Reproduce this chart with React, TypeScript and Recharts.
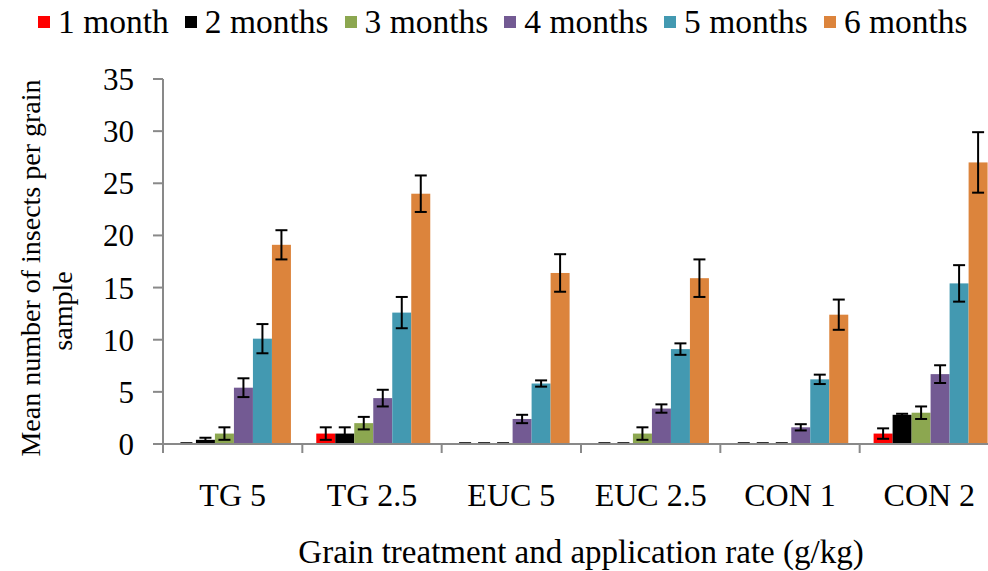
import React from 'react';
import { Bar, BarChart, ErrorBar, Label, Legend, XAxis, YAxis } from 'recharts';

const categories = ['TG 5', 'TG 2.5', 'EUC 5', 'EUC 2.5', 'CON 1', 'CON 2'];
const seriesNames = ['1 month', '2 months', '3 months', '4 months', '5 months', '6 months'];
const month1 = [0, 1.0, 0, 0, 0, 1.0];
const month1Err = [0, 0.6, 0, 0, 0, 0.5];
const month2 = [0.4, 1.0, 0, 0, 0, 2.8];
const month2Err = [0.2, 0.6, 0, 0, 0, 0.1];
const month3 = [1.0, 2.0, 0, 1.0, 0, 3.0];
const month3Err = [0.6, 0.6, 0, 0.6, 0, 0.6];
const month4 = [5.4, 4.4, 2.4, 3.4, 1.6, 6.7];
const month4Err = [0.9, 0.8, 0.4, 0.4, 0.3, 0.85];
const month5 = [10.1, 12.6, 5.8, 9.1, 6.2, 15.4];
const month5Err = [1.4, 1.5, 0.3, 0.55, 0.45, 1.75];
const month6 = [19.1, 24.0, 16.4, 15.9, 12.4, 27.0];
const month6Err = [1.4, 1.75, 1.8, 1.8, 1.45, 2.9];
const yTicks = [0, 5, 10, 15, 20, 25, 30, 35];

const values = [month1, month2, month3, month4, month5, month6];
const errors = [month1Err, month2Err, month3Err, month4Err, month5Err, month6Err];
const colors = ['#FF0000', '#000000', '#8CA750', '#735A93', '#4399B1', '#DC843C'];

const data = categories.map((name, i) => {
  const row: Record<string, any> = { name };
  values.forEach((v, s) => {
    row[`m${s}`] = v[i];
    row[`e${s}`] = errors[s][i];
  });
  return row;
});

const FONT = "'Liberation Serif', 'Times New Roman', serif";
const AXIS_GRAY = '#898989';
const CHART_W = 1010;
const CHART_H = 571;
const Y_AXIS_W = 163;
const RIGHT = 11;
const band = (CHART_W - Y_AXIS_W - RIGHT) / categories.length;

// zero bars only show the error cap as a short dash on the baseline
function makeShape(s: number) {
  return (props: any) => {
    const { x, y, width, height, fill, index } = props;
    if (values[s][index] === 0) {
      const cx = x + width / 2;
      const base = y + height;
      return <line x1={cx - 6} y1={base - 1} x2={cx + 6} y2={base - 1} stroke="#333" strokeWidth={2} />;
    }
    return <rect x={x} y={y} width={width} height={height} fill={fill} />;
  };
}

function CategoryTick(props: any) {
  const { x, y, payload, index } = props;
  return (
    <g>
      <line x1={x - band / 2} y1={y} x2={x - band / 2} y2={y + 9} stroke={AXIS_GRAY} strokeWidth={2} />
      {index === categories.length - 1 ? (
        <line x1={x + band / 2} y1={y} x2={x + band / 2} y2={y + 9} stroke={AXIS_GRAY} strokeWidth={2} />
      ) : null}
      <text x={x} y={y + 62} textAnchor="middle" fontSize={32} fill="#000" fontFamily={FONT}>
        {payload.value}
      </text>
    </g>
  );
}

function YTitle() {
  return (
    <g fontFamily={FONT} fontSize={28} fill="#000">
      <text x={40} y={268} transform="rotate(-90 40 268)" textAnchor="middle">
        Mean number of insects per grain
      </text>
      <text x={72} y={311} transform="rotate(-90 72 311)" textAnchor="middle">
        sample
      </text>
    </g>
  );
}

function renderLegend(props: any) {
  const { payload } = props;
  return (
    <div style={{ display: 'flex', paddingLeft: 38, gap: 16, fontSize: 33.5, fontFamily: FONT, lineHeight: '44px', color: '#000' }}>
      {payload.map((entry: any) => (
        <div key={entry.value} style={{ display: 'flex', alignItems: 'center' }}>
          <span style={{ width: 12, height: 12, background: entry.color, marginRight: 8 }} />
          <span style={{ fontFamily: FONT }}>{entry.value}</span>
        </div>
      ))}
    </div>
  );
}

export default function App() {
  return (
    <div style={{ position: 'absolute', left: 0, top: 0, width: 988, height: 571, overflow: 'hidden', background: '#fff' }}>
      <BarChart
        width={CHART_W}
        height={CHART_H}
        data={data}
        margin={{ top: 79, right: RIGHT, bottom: 0, left: 0 }}
        barGap={0}
        barCategoryGap="10%"
        style={{ fontFamily: FONT }}
      >
        <Legend
          layout="horizontal"
          verticalAlign="middle"
          align="center"
          wrapperStyle={{ top: 0, left: 0, width: 988, height: 44 }}
          content={renderLegend}
        />
        <XAxis
          dataKey="name"
          height={CHART_H - 79 - 365}
          axisLine={{ stroke: AXIS_GRAY, strokeWidth: 2 }}
          tickLine={false}
          tickSize={0}
          tickMargin={0}
          interval={0}
          tick={<CategoryTick />}
        >
          <Label
            value="Grain treatment and application rate (g/kg)"
            position="insideBottom"
            offset={8}
            style={{ fontSize: 33, fill: '#000', fontFamily: FONT }}
          />
        </XAxis>
        <YAxis
          width={Y_AXIS_W}
          domain={[0, 35]}
          ticks={yTicks}
          interval={0}
          axisLine={{ stroke: AXIS_GRAY, strokeWidth: 2 }}
          tickLine={{ stroke: AXIS_GRAY, strokeWidth: 2 }}
          tickSize={10}
          tickMargin={19}
          tick={{ fill: '#000', fontSize: 31, fontFamily: FONT }}
        >
          <Label content={<YTitle />} />
        </YAxis>
        {seriesNames.map((name, s) => (
          <Bar
            key={name}
            dataKey={`m${s}`}
            name={name}
            fill={colors[s]}
            minPointSize={1}
            shape={makeShape(s)}
            isAnimationActive={false}
          >
            <ErrorBar dataKey={`e${s}`} width={6} stroke="#000" strokeWidth={2} />
          </Bar>
        ))}
      </BarChart>
    </div>
  );
}
